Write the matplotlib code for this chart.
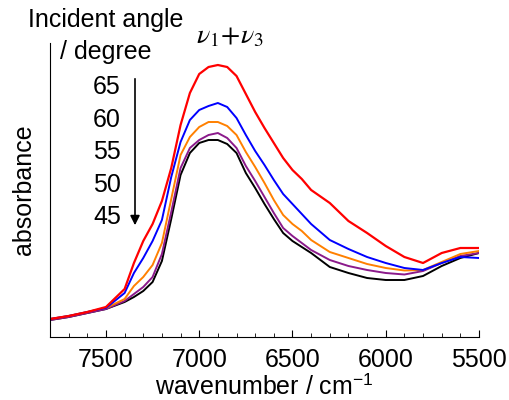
import matplotlib
matplotlib.use("Agg")
import matplotlib.pyplot as plt
from matplotlib.ticker import MultipleLocator
from matplotlib.patches import FancyArrowPatch

plt.rcParams['font.family'] = ['Liberation Sans', 'DejaVu Sans']
plt.rcParams['mathtext.fontset'] = 'stix'

wavenumber = [7800, 7700, 7600, 7500, 7400, 7350, 7300, 7250, 7200, 7150, 7100,
              7050, 7000, 6950, 6900, 6850, 6800, 6750, 6700, 6650, 6600, 6550,
              6500, 6450, 6400, 6300, 6200, 6100, 6000, 5900, 5800, 5700, 5600, 5500]

# absorbance (arbitrary units, x1000)
abs_65 = [18, 21, 25, 30, 48, 74, 96, 113, 136, 169, 212, 244, 263, 270, 272, 270, 261,
          243, 225, 209, 194, 179, 167, 158, 147, 134, 116, 104, 91, 80, 74, 84, 89, 89]
abs_60 = [18, 21, 25, 29, 44, 64, 79, 96, 117, 160, 195, 217, 227, 231, 234, 230, 219,
          202, 186, 172, 157, 143, 133, 123, 113, 97, 88, 80, 74, 69, 67, 74, 80, 79]
abs_55 = [18, 21, 25, 29, 38, 51, 60, 72, 94, 138, 182, 200, 210, 215, 215, 211, 202,
          185, 170, 154, 137, 122, 113, 106, 97, 85, 79, 73, 69, 66.5, 67, 75, 83, 86]
abs_50 = [17, 20, 24, 28, 36, 43, 50, 60, 83, 125, 169, 189, 197, 202, 204, 199, 189,
          171, 156, 140, 124, 109, 101, 94, 87, 77, 71, 67, 64, 62.5, 66, 74, 81, 84]
abs_45 = [17, 20, 24, 28, 35, 40, 46, 55, 76, 118, 162, 184, 194, 197, 197, 193, 184,
          164, 149, 133, 118, 104, 96, 90, 84, 70, 64, 59, 57, 57, 61, 71, 79, 84]

angles = ['65', '60', '55', '50', '45']
series = [abs_45, abs_50, abs_55, abs_60, abs_65]
colors = ['black', '#8B1A8B', '#FF8000', '#0000FF', '#FF0000']
widths = [1.4, 1.4, 1.4, 1.4, 1.6]

fig = plt.figure(figsize=(5.09, 4.00), dpi=100)
ax = fig.add_axes([50/509, 1-337/400, (479-50)/509, (337-43)/400])

for y, c, w in zip(series, colors, widths):
    ax.plot(wavenumber, y, color=c, lw=w)

ax.set_xlim(7800, 5500)
ax.set_ylim(0, 294)
ax.spines['top'].set_visible(False)
ax.spines['right'].set_visible(False)
ax.set_yticks([])
ax.xaxis.set_major_locator(MultipleLocator(500))
ax.xaxis.set_minor_locator(MultipleLocator(100))
ax.tick_params(axis='x', which='major', direction='in', length=5, labelsize=18, pad=8)
ax.tick_params(axis='x', which='minor', direction='in', length=3)
ax.set_xlabel('wavenumber / cm$^{\\mathregular{-1}}$', fontsize=18, labelpad=2)
ax.set_ylabel('absorbance', fontsize=18, labelpad=10)

fig.text(106/509, 1-20/400, 'Incident angle', fontsize=18, ha='center', va='center')
fig.text(106/509, 1-52/400, '/ degree', fontsize=18, ha='center', va='center')
ys = [86.7, 120, 151.7, 185, 216.7]
for lab, yy in zip(angles, ys):
    fig.text(121/509, 1-yy/400, lab, fontsize=18, ha='right', va='center')
fig.add_artist(FancyArrowPatch((135/509, 1-76/400), (135/509, 1-228/400),
               transform=fig.transFigure, arrowstyle='-|>', mutation_scale=14,
               color='black', lw=1.2))
fig.text(230/509, 1-36/400, r'$\nu_1\!+\!\nu_3$', fontsize=20, ha='center', va='center')

fig.savefig('out.png', dpi=100)
